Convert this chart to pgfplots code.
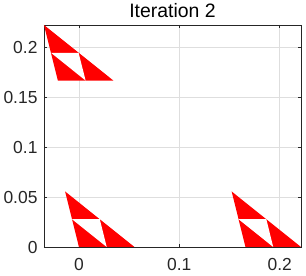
\documentclass[border=0pt]{standalone}
\usepackage{pgfplots}
\pgfplotsset{compat=1.18}
\usepackage{fontspec}
\setmainfont{Liberation Sans}
\definecolor{axc}{rgb}{0.15,0.15,0.15}
\definecolor{gridc}{rgb}{0.87,0.87,0.87}
\begin{document}
\begin{tikzpicture}
\begin{axis}[
  scale only axis, width=257bp, height=222bp,
  xmin=-0.0348, xmax=0.2212, ymin=0, ymax=0.2222,
  xtick={0,0.1,0.2}, xticklabels={0,0.1,0.2},
  ytick={0,0.05,0.1,0.15,0.2}, yticklabels={0,0.05,0.1,0.15,0.2},
  tick align=inside, xtick pos=both, ytick pos=both,
  major tick length=3bp,
  grid=major, grid style={gridc, line width=0.5bp},
  axis line style={axc, line width=0.6bp},
  tick style={axc, line width=0.6bp},
  tick label style={font=\fontsize{17.5}{17.5}\selectfont, text=axc},
  xticklabel style={yshift=-8bp},
  yticklabel style={xshift=-3bp},
  /pgf/number format/assume math mode=true,
  title={Iteration 2},
  title style={font=\fontsize{19.5}{19.5}\selectfont, yshift=-2bp},
  axis background/.style={fill=white},
]
% bottom-left group
\addplot[fill=red, draw=none] coordinates {(0,0) (0.0553,0) (-0.0138,0.0556)} -- cycle;
\addplot[fill=white, draw=none] coordinates {(0.02765,0) (0.02075,0.0278) (-0.0069,0.0278)} -- cycle;
% bottom-right group
\addplot[fill=red, draw=none] coordinates {(0.1659,0) (0.2212,0) (0.1521,0.0556)} -- cycle;
\addplot[fill=white, draw=none] coordinates {(0.19355,0) (0.18665,0.0278) (0.159,0.0278)} -- cycle;
% top group
\addplot[fill=red, draw=none] coordinates {(-0.021,0.1666) (0.0343,0.1666) (-0.0348,0.2222)} -- cycle;
\addplot[fill=white, draw=none] coordinates {(0.00665,0.1666) (-0.00035,0.1944) (-0.0279,0.1944)} -- cycle;
\end{axis}
\pgfresetboundingbox
\path ([xshift=-44bp,yshift=-29bp]current axis.south west) rectangle ([xshift=5bp,yshift=25bp]current axis.north east);
\end{tikzpicture}
\end{document}
